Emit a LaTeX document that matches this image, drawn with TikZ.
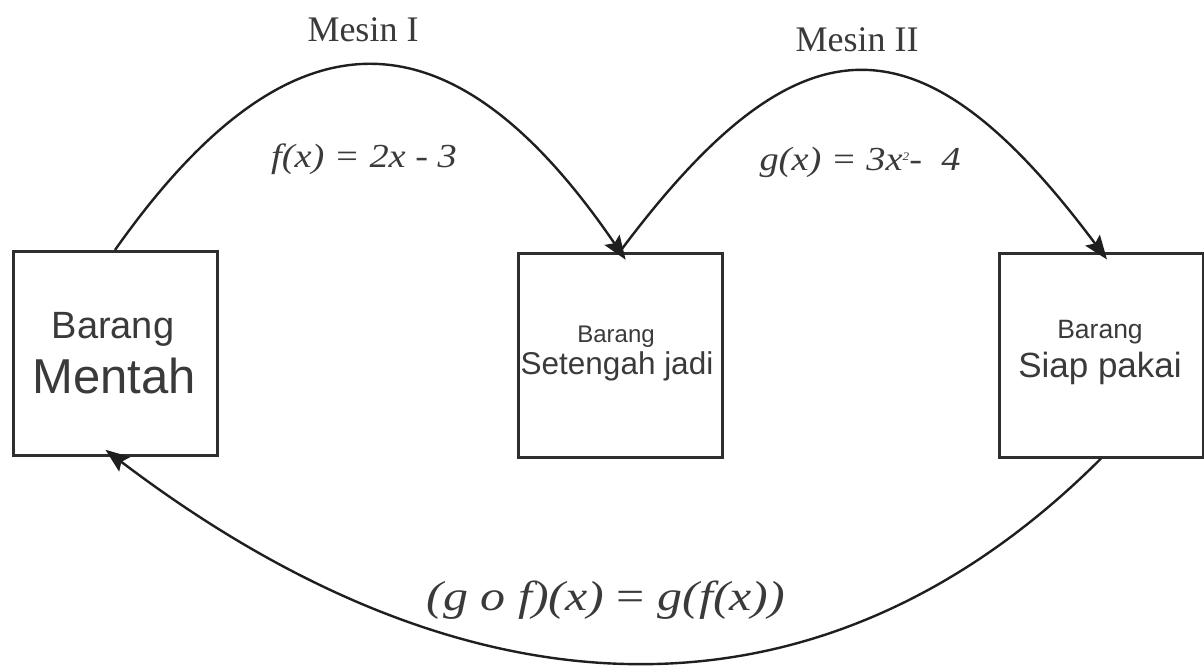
\documentclass[tikz,border=0pt]{standalone}
\usepackage{fontspec}
\setmainfont{Liberation Serif}
\newfontfamily\arialf{Liberation Sans}
\usetikzlibrary{arrows.meta}
\definecolor{txtgray}{HTML}{3A3A3A}
\definecolor{linegray}{HTML}{2E2E2E}
\newcommand{\fs}[1]{\fontsize{#1}{#1}\selectfont}
\begin{document}
\begin{tikzpicture}[x=1pt,y=-1pt,
  box/.style={draw=linegray, line width=3pt, minimum width=204pt, minimum height=204pt, inner sep=0pt},
  conn/.style={draw=black!88, line width=2.4pt},
  tipend/.style={-{Stealth[length=24pt,width=18pt,inset=4pt]}, shorten >=-10pt},
  lbl/.style={inner sep=0pt, text=txtgray, anchor=base},
  sanslbl/.style={lbl, font=\arialf}]
\useasboundingbox (0,0) rectangle (1204,666);
\fill[white] (0,0) rectangle (1204,666);

% boxes
\node[box] (b1) at (115,353.5) {};
\node[box] (b2) at (620,355) {};
\node[box] (b3) at (1101,355) {};

% box texts
\node[sanslbl] (t1a) at (113,338) {\fs{38}Barang};
\node[sanslbl] (t1b) at (114,393) {\fs{49}Mentah};
\node[sanslbl] (t2a) at (616,342) {\fs{24}Barang};
\node[sanslbl] (t2b) at (617,374) {\fs{31.5}Setengah jadi};
\node[sanslbl] (t3a) at (1100,338) {\fs{26.5}Barang};
\node[sanslbl] (t3b) at (1100,377) {\fs{35}Siap pakai};

% machine labels
\node[lbl] (m1) at (363,42) {\fs{36}Mesin I};
\node[lbl] (m2) at (857,52) {\fs{36}Mesin II};

% functions
\node[lbl] (fx) at (364,167) {\scalebox{1.2}[1.05]{\fs{32}\itshape f(x) = 2x - 3}};
\node[lbl] (gx) at (860,170) {\scalebox{1.2}[1.05]{\fs{32}\itshape g(x) = 3x\raisebox{9pt}{\fs{11}2}- \ 4}};
\node[lbl] (gof) at (606,610) {\scalebox{1.19}[1]{\fs{42}\itshape (g o f)(x) {\upshape =} g(f(x))}};

% connectors
\draw[conn, tipend] (b1.north) .. controls +(174,-247) and +(-170,-249) .. (b2.north);
\draw[conn, tipend] (b2.north) .. controls +(180,-241) and +(-180,-241) .. (b3.north);
\draw[conn, tipend, shorten >=-12pt] (b3.south) .. controls +(-274,274) and +(362,275) .. (b1.south);
\end{tikzpicture}
\end{document}
